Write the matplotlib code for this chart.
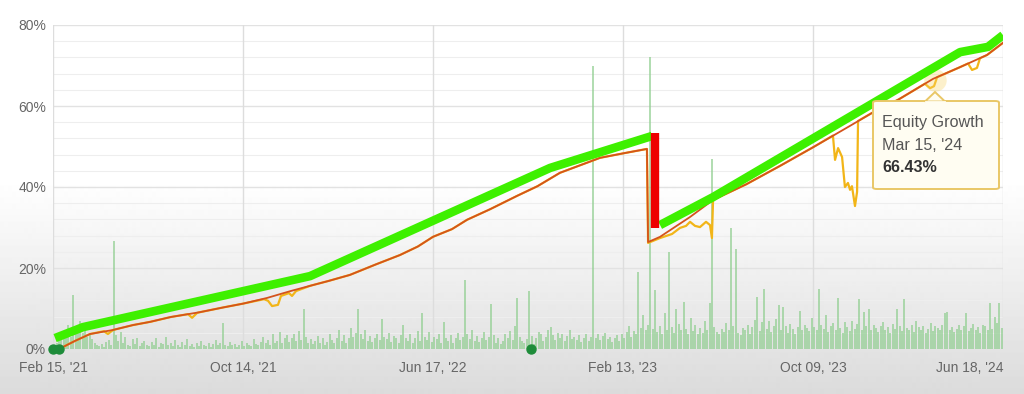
import numpy as np
import matplotlib
matplotlib.use("Agg")
from matplotlib import pyplot as plt
from matplotlib.patches import FancyBboxPatch, Polygon

plt.rcParams['font.family'] = ['Liberation Sans', 'DejaVu Sans']

# x runs in "tick units": 0 = Feb 15 '21 ... 5 = Jun 18 '24
tick_labels = ["Feb 15, '21", "Oct 14, '21", "Jun 17, '22", "Feb 13, '23", "Oct 09, '23", "Jun 18, '24"]

# hand drawn growth highlight (green) and the red drop
green_a_x = [0.011, 0.158, 1.353, 2.616, 3.153]
green_a_y = [2.7, 5.4, 18.0, 44.7, 52.6]
green_b_x = [3.195, 3.474, 4.774, 4.921, 5.0]
green_b_y = [30.6, 37.5, 73.3, 74.6, 77.5]
red_x = [3.168, 3.168]
red_y = [53.4, 29.9]

# balance line
bal_x = [0.026, 0.053, 0.116, 0.195, 0.316, 0.42, 0.511, 0.62, 0.774, 0.9, 1.0, 1.126, 1.25, 1.353,
         1.45, 1.563, 1.7, 1.826, 1.92, 2.0, 2.1, 2.179, 2.3, 2.442, 2.55, 2.668, 2.879, 3.0, 3.126,
         3.132, 3.195, 3.353, 3.474, 3.65, 3.826, 4.0, 4.195, 4.311, 4.45, 4.632, 4.774, 4.916, 5.0]
bal_y = [0.0, 0.5, 2.0, 3.7, 4.7, 5.9, 6.7, 7.9, 9.1, 10.3, 11.2, 12.6, 14.3, 15.6,
         16.8, 18.3, 20.9, 23.2, 25.3, 27.7, 29.6, 31.9, 34.5, 37.8, 40.2, 43.5, 47.2, 48.3, 49.4,
         26.4, 27.7, 32.6, 36.8, 40.7, 45.2, 49.8, 55.1, 58.3, 61.6, 66.7, 69.6, 72.6, 75.6]

# equity line (same as balance except where it dips below)
eq_x = [0.026, 0.053, 0.116, 0.195, 0.268, 0.289, 0.316, 0.42, 0.511, 0.62, 0.711, 0.732, 0.758,
        0.774, 0.9, 1.0, 1.111, 1.132, 1.153, 1.184, 1.2, 1.242, 1.258, 1.279, 1.353,
        1.45, 1.563, 1.7, 1.826, 1.92, 2.0, 2.1, 2.179, 2.3, 2.442, 2.55, 2.668, 2.879, 3.0, 3.126,
        3.132, 3.195, 3.258, 3.3, 3.332, 3.353, 3.379, 3.405, 3.437, 3.458, 3.468, 3.474, 3.65,
        3.826, 4.0, 4.105, 4.116, 4.132, 4.153, 4.168, 4.184, 4.195, 4.205, 4.221, 4.232, 4.237,
        4.311, 4.45, 4.589, 4.616, 4.637, 4.653, 4.774, 4.816, 4.837, 4.863, 4.879, 4.916, 5.0]
eq_y = [0.0, 0.5, 2.0, 3.7, 4.4, 3.7, 4.7, 5.9, 6.7, 7.9, 8.6, 7.7, 8.9,
        9.1, 10.3, 11.2, 12.3, 11.9, 10.6, 10.9, 13.1, 13.8, 13.1, 14.3, 15.6,
        16.8, 18.3, 20.9, 23.2, 25.3, 27.7, 29.6, 31.9, 34.5, 37.8, 40.2, 43.5, 47.2, 48.3, 49.4,
        26.2, 27.4, 28.4, 29.9, 30.4, 31.4, 30.4, 30.1, 31.4, 30.6, 27.4, 36.8, 40.7,
        45.2, 49.8, 52.7, 46.7, 49.6, 47.4, 40.0, 41.0, 39.3, 40.2, 35.3, 38.8, 56.3,
        58.3, 61.6, 65.5, 64.4, 64.9, 67.1, 69.6, 70.5, 68.9, 69.4, 71.8, 72.6, 75.6]

# per-period bars (percent), 80 per tick unit
bars = [
    1.0, 1.5, 2.0, 3.5, 2.5, 4.0, 6.0, 3.0, 13.3, 4.5, 5.0, 7.0, 4.0, 5.5, 3.0, 4.0, 2.5, 1.5, 1.0, 0.8,
    1.2, 0.6, 1.8, 2.2, 1.0, 26.7, 3.5, 2.0, 4.2, 1.5, 3.0, 1.0, 0.8, 2.5, 1.2, 2.8, 0.7, 1.5, 2.0, 1.0,
    0.8, 1.8, 1.0, 2.6, 0.6, 1.5, 1.2, 3.0, 0.9, 1.4, 0.7, 2.2, 1.0, 0.6, 1.8, 1.1, 2.4, 0.8, 1.3, 0.6,
    1.5, 0.7, 2.0, 1.0, 0.8, 1.6, 0.6, 1.2, 2.2, 0.9, 1.4, 6.4, 1.0, 0.7, 1.8, 0.9, 1.3, 0.6, 1.1, 2.0,
    0.8, 1.6, 1.0, 0.7, 2.4, 1.2, 0.9, 1.8, 3.0, 1.4, 2.2, 1.0, 3.6, 1.5, 2.0, 4.2, 1.6, 2.8, 3.4, 1.8,
    2.6, 3.8, 1.9, 4.4, 2.2, 10.0, 3.0, 1.6, 2.4, 1.2, 2.0, 3.2, 1.4, 2.6, 1.0, 1.8, 3.6, 2.2, 1.5, 2.8,
    4.6, 2.0, 3.4, 1.6, 2.8, 5.2, 3.0, 4.0, 10.0, 3.6, 2.4, 4.8, 2.0, 3.2, 1.8, 2.6, 3.8, 2.2, 7.4, 3.0,
    2.4, 4.0, 1.8, 3.2, 2.6, 1.6, 3.4, 6.0, 2.8, 2.0, 3.6, 1.4, 2.6, 4.4, 2.0, 9.0, 3.0, 2.2, 4.2, 1.8,
    3.0, 2.4, 3.8, 1.6, 6.6, 2.8, 2.0, 3.4, 1.4, 2.6, 4.0, 2.2, 3.0, 17.0, 3.6, 2.4, 4.6, 2.0, 3.2, 1.8,
    2.8, 4.2, 2.2, 3.0, 11.0, 3.4, 1.6, 2.6, 1.2, 2.0, 3.6, 2.8, 4.4, 2.2, 5.8, 12.6, 3.0, 2.0, 1.4, 2.4,
    14.3, 3.2, 1.2, 2.6, 4.2, 3.6, 2.0, 3.0, 4.8, 5.5, 3.4, 2.2, 4.0, 2.8, 3.6, 2.0, 3.2, 4.7, 2.4, 3.0,
    2.2, 3.4, 1.8, 2.8, 3.6, 2.0, 3.0, 70.0, 2.6, 3.8, 2.2, 3.2, 4.0, 2.4, 3.0, 1.8, 2.6, 3.4, 2.0, 3.6,
    2.6, 4.2, 5.6, 3.0, 4.4, 3.6, 19.0, 5.2, 8.4, 4.6, 6.0, 72.0, 5.0, 14.5, 4.2, 5.8, 3.6, 8.9, 4.8, 24.0,
    5.4, 4.0, 10.0, 6.2, 4.6, 11.5, 5.0, 3.8, 7.6, 4.4, 6.0, 3.6, 5.2, 4.0, 6.8, 4.6, 11.3, 47.0, 5.4, 4.2,
    3.6, 5.0, 4.2, 6.4, 4.8, 30.0, 5.6, 24.7, 4.0, 3.4, 5.2, 4.6, 6.0, 3.8, 5.4, 7.2, 12.8, 4.4, 6.6, 14.8,
    5.0, 6.8, 4.2, 5.6, 7.4, 10.9, 4.6, 10.4, 5.8, 4.0, 6.2, 5.0, 3.8, 5.4, 9.4, 4.8, 6.0, 5.2, 4.4, 7.6,
    5.4, 4.6, 14.8, 6.0, 5.0, 8.4, 4.2, 5.6, 6.4, 4.8, 12.6, 5.2, 4.0, 6.6, 5.4, 4.4, 7.0, 5.0, 6.2, 12.4,
    4.6, 9.1, 5.8, 9.9, 4.8, 6.0, 5.2, 4.2, 5.6, 6.7, 4.6, 5.4, 4.0, 6.2, 5.0, 9.9, 5.6, 4.4, 12.4, 5.2,
    4.8, 6.0, 4.2, 6.9, 5.4, 4.6, 5.8, 4.0, 5.0, 6.4, 4.4, 5.7, 5.2, 4.6, 6.0, 9.0, 9.1, 4.8, 5.4, 4.2,
    5.0, 6.0, 4.6, 5.6, 8.9, 4.4, 5.2, 6.2, 4.8, 5.4, 4.0, 6.0, 5.6, 4.8, 11.3, 5.0, 7.9, 6.4, 11.3, 5.2,
]

dot_x = [0.0, 0.032, 2.516]
dot_y = [0, 0, 0]

hover_x, hover_y = 4.642, 66.43
hover_title = "Equity Growth"
hover_date = "Mar 15, '24"


fig = plt.figure(figsize=(10.24, 3.94), dpi=100)

# screenshot-ish grey fade at the bottom
bg = fig.add_axes([0, 0, 1, 1], zorder=-10)
rows = np.ones(394)
rows[180:] = np.linspace(1.0, 0.86, 394 - 180)
bg.imshow(rows[:, None], aspect='auto', cmap='gray', vmin=0, vmax=1, extent=[0, 1, 0, 1])
bg.axis('off')

ax = fig.add_axes([53 / 1024, 45 / 394, 950 / 1024, 324 / 394])
ax.patch.set_alpha(0)
for s in ax.spines.values():
    s.set_visible(False)

ax.set_xlim(0, 5.0)
ax.set_ylim(0, 80)

for v in np.arange(4, 80, 4):
    if v % 20:
        ax.axhline(v, color='#eeeeee', lw=0.8, zorder=0)
for v in [0, 20, 40, 60, 80]:
    ax.axhline(v, color='#e2e2e2', lw=1.0, zorder=0)
for t in range(6):
    ax.axvline(t, color='#dddddd', lw=1.0, zorder=0)

bx = (np.arange(len(bars)) + 0.5) / 80
ax.bar(bx, bars, width=0.011, color='#92cf92', alpha=0.7, lw=0, zorder=1)

ax.plot(eq_x, eq_y, color='#f2b518', lw=1.6, zorder=2)
ax.plot(bal_x, bal_y, color='#d4531c', lw=1.3, zorder=3)
ax.plot(green_a_x, green_a_y, color='#3ef000', lw=6.2, solid_capstyle='butt', zorder=4)
ax.plot(green_b_x, green_b_y, color='#3ef000', lw=6.2, solid_capstyle='butt', zorder=4)
ax.plot(red_x, red_y, color='#ee0000', lw=6.0, solid_capstyle='butt', zorder=5)

ax.scatter(dot_x, dot_y, s=42, color='#1e8c3a', zorder=6, clip_on=False)
ax.scatter([hover_x], [hover_y], s=260, color='#f8d66a', alpha=0.35, lw=0, zorder=2)

ax.set_xticks(range(6))
ax.set_xticklabels(tick_labels)
ax.get_xticklabels()[-1].set_ha('right')
ax.set_yticks([0, 20, 40, 60, 80])
ax.set_yticklabels([f"{v}%" for v in [0, 20, 40, 60, 80]])
ax.tick_params(axis='both', length=0, labelsize=10, labelcolor='#666666')
ax.tick_params(axis='x', pad=9)
ax.tick_params(axis='y', pad=5)

# tooltip
def fx(px):
    return px / 1024

def fy(py):
    return 1 - py / 394

box = FancyBboxPatch((fx(873), fy(189)), fx(999) - fx(873), fy(101) - fy(189),
                     boxstyle="round,pad=0,rounding_size=0.004", transform=fig.transFigure,
                     facecolor='#fffdf2', edgecolor='#e9c766', lw=1.4, zorder=10)
fig.add_artist(box)
tri = Polygon([(fx(925), fy(101.5)), (fx(935), fy(92)), (fx(945), fy(101.5))], closed=True,
              transform=fig.transFigure, facecolor='#fffdf2', edgecolor='#e9c766', lw=1.4, zorder=11)
fig.add_artist(tri)
fig.add_artist(plt.Line2D([fx(926), fx(944)], [fy(101.5), fy(101.5)], transform=fig.transFigure,
                          color='#fffdf2', lw=2, zorder=12))
fig.text(fx(882), fy(122), hover_title, fontsize=11.6, color='#555555', va='center', zorder=13)
fig.text(fx(882), fy(145), hover_date, fontsize=11.6, color='#555555', va='center', zorder=13)
fig.text(fx(882), fy(168), f"{hover_y:.2f}%", fontsize=11.6, color='#333333', fontweight='bold',
         va='center', zorder=13)

plt.savefig("out.png", dpi=100)
plt.close()
